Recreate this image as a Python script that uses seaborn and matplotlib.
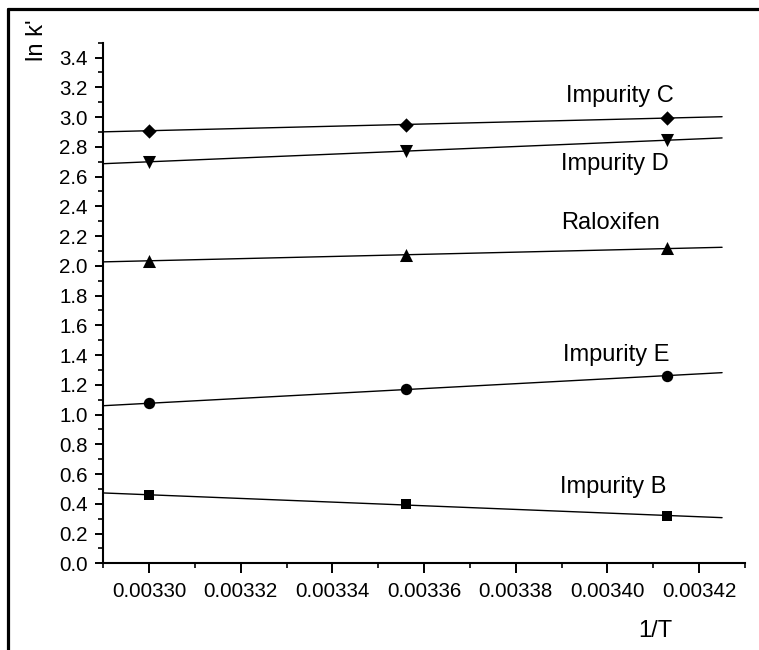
import numpy as np
import pandas as pd
import matplotlib
matplotlib.use("Agg")
import matplotlib.pyplot as plt
from matplotlib.lines import Line2D
from matplotlib.ticker import MultipleLocator, FormatStrFormatter
import seaborn as sns

# ---- data ----
inv_T = [0.003300, 0.003356, 0.003413]          # 1/T
compounds = ["Impurity C", "Impurity D", "Raloxifen", "Impurity E", "Impurity B"]
ln_k_C = [2.909, 2.949, 2.994]
ln_k_D = [2.700, 2.770, 2.845]
ln_k_R = [2.035, 2.072, 2.117]
ln_k_E = [1.075, 1.170, 1.261]
ln_k_B = [0.458, 0.397, 0.319]
series = [ln_k_C, ln_k_D, ln_k_R, ln_k_E, ln_k_B]

# ---- styles ----
markers = {"Impurity C": "D", "Impurity D": "v", "Raloxifen": "^",
           "Impurity E": "o", "Impurity B": "s"}
msize = {"Impurity C": 7.3, "Impurity D": 9.4, "Raloxifen": 9.4,
         "Impurity E": 8.2, "Impurity B": 7.4}
fit_range = [0.00329, 0.003425]

sns.set_theme(style="ticks")
plt.rcParams["font.family"] = ["Liberation Sans", "DejaVu Sans"]

W, H = 759, 650
fig = plt.figure(figsize=(W / 100, H / 100), dpi=100)
ax = fig.add_axes([103.3 / W, 1 - 563.3 / H, (745 - 103.3) / W, (563.3 - 42.7) / H])

rows = []
for name, vals in zip(compounds, series):
    for x, y in zip(inv_T, vals):
        rows.append({"invT": x, "lnk": y, "compound": name})
df = pd.DataFrame(rows)

for name, vals in zip(compounds, series):
    slope, icpt = np.polyfit(inv_T, vals, 1)
    xf = np.array(fit_range)
    fit_df = pd.DataFrame({"invT": xf, "lnk": slope * xf + icpt})
    sns.lineplot(data=fit_df, x="invT", y="lnk", ax=ax, color="black",
                 linewidth=1.0, zorder=2)
    sub = df[df["compound"] == name]
    sns.scatterplot(data=sub, x="invT", y="lnk", ax=ax, marker=markers[name],
                    s=msize[name] ** 2, color="black", edgecolor="black",
                    linewidth=0, zorder=3, legend=False)

ax.set_xlim(0.00329, 0.00343)
ax.set_ylim(0.0, 3.5)
ax.xaxis.set_major_locator(MultipleLocator(0.00002))
ax.xaxis.set_minor_locator(MultipleLocator(0.00001))
ax.yaxis.set_major_locator(MultipleLocator(0.2))
ax.yaxis.set_minor_locator(MultipleLocator(0.1))
ax.xaxis.set_major_formatter(FormatStrFormatter("%.5f"))
ax.yaxis.set_major_formatter(FormatStrFormatter("%.1f"))
ax.set_xticks([t for t in np.arange(0.00330, 0.003425, 0.00002)])
ax.set_yticks(np.round(np.arange(0.0, 3.41, 0.2), 1))

for s in ["top", "right"]:
    ax.spines[s].set_visible(False)
for s in ["left", "bottom"]:
    ax.spines[s].set_linewidth(1.5)
    ax.spines[s].set_color("black")

ax.tick_params(axis="x", which="major", direction="out", length=7.2, width=1.4,
               labelsize=14.8, pad=6, colors="black")
ax.tick_params(axis="x", which="minor", direction="out", length=3.6, width=1.4)
ax.tick_params(axis="y", which="major", direction="out", length=5.8, width=1.4,
               labelsize=14.8, pad=5.5, colors="black")
ax.tick_params(axis="y", which="minor", direction="out", length=3.4, width=1.4)
ax.set_xlabel("")
ax.set_ylabel("")
ax.set_facecolor("white")

def ftext(x, y, s, **kw):
    fig.text(x / W, 1 - y / H, s, fontsize=17, color="black", **kw)

ftext(566, 102, "Impurity C", ha="left", va="baseline")
ftext(561, 170, "Impurity D", ha="left", va="baseline")
ftext(561, 229, "Raloxifen", ha="left", va="baseline")
ftext(563, 361.5, "Impurity E", ha="left", va="baseline")
ftext(560, 493, "Impurity B", ha="left", va="baseline")
ftext(638, 637, "1/T", ha="left", va="baseline")
ftext(37, 40, "ln k'", ha="center", va="center", rotation=90)

# outer frame (top and left edges)
fig.add_artist(Line2D([8.3 / W, 1.0], [1 - 9 / H, 1 - 9 / H], color="black",
                      linewidth=2.3, transform=fig.transFigure))
fig.add_artist(Line2D([8.3 / W, 8.3 / W], [0.0, 1 - 9 / H], color="black",
                      linewidth=2.3, transform=fig.transFigure))

fig.savefig("out.png", dpi=100, facecolor="white")
